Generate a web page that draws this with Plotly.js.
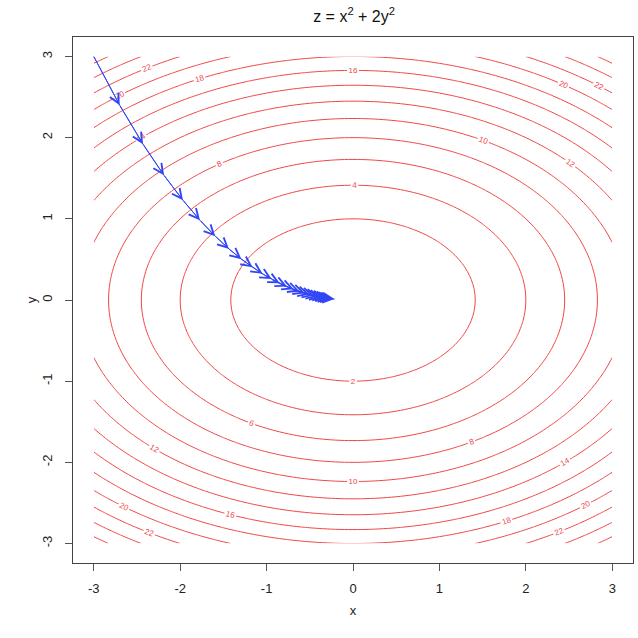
<!DOCTYPE html>
<html>
<head>
<meta charset="utf-8">
<script src="https://cdn.plot.ly/plotly-3.0.1.min.js"></script>
<style>html,body{margin:0;padding:0;background:#fff;}#chart{width:638px;height:638px;}</style>
</head>
<body>
<div id="chart"></div>
<script>
// Grid on which the surface z = x^2 + 2y^2 (the chart's title) is evaluated
const gridX = [];
const gridY = [];
for (let i = 0; i <= 120; i++) { gridX.push(-3 + i * 0.05); gridY.push(-3 + i * 0.05); }

// Contour levels
const levelStart = 2;
const levelEnd = 26;
const levelStep = 2;

// Descent path
const pathX = [-3.000, -2.700, -2.430, -2.187, -1.968, -1.771, -1.594, -1.435, -1.291, -1.162,
               -1.046, -0.941, -0.847, -0.763, -0.686, -0.618, -0.556, -0.500, -0.450, -0.405,
               -0.365, -0.328, -0.295, -0.266, -0.239, -0.215];
const pathY = [3.000, 2.400, 1.920, 1.536, 1.229, 0.983, 0.786, 0.629, 0.503, 0.403,
               0.322, 0.258, 0.206, 0.165, 0.132, 0.106, 0.084, 0.068, 0.054, 0.043,
               0.035, 0.028, 0.022, 0.018, 0.014, 0.011];

// Axis ticks
const tickVals = [-3, -2, -1, 0, 1, 2, 3];
const tickText = ['-3', '-2', '-1', '0', '1', '2', '3'];

const gridZ = gridY.map(y => gridX.map(x => x * x + 2 * y * y));

const red = 'rgb(240,70,70)';
const blue = 'rgb(50,70,245)';
const font = 'Liberation Sans, Arial, sans-serif';

const traces = [
  {
    type: 'contour',
    x: gridX, y: gridY, z: gridZ,
    autocontour: false,
    contours: {
      coloring: 'none',
      start: levelStart, end: levelEnd, size: levelStep,
      showlabels: true,
      labelfont: {family: font, size: 8, color: red}
    },
    line: {color: red, width: 1, smoothing: 1},
    showscale: false,
    hoverinfo: 'skip'
  },
  {
    type: 'scatter', mode: 'lines',
    x: pathX, y: pathY,
    line: {color: blue, width: 1},
    hoverinfo: 'skip', showlegend: false
  }
];

// Arrow heads at the end of every step; very short steps get a longer
// (collinear) shaft so that the head is still drawn.
const minShaft = 0.2;
const annotations = [];
for (let k = 1; k < pathX.length; k++) {
  const dx = pathX[k] - pathX[k - 1];
  const dy = pathY[k] - pathY[k - 1];
  const len = Math.hypot(dx, dy);
  const s = len < minShaft ? minShaft / len : 1;
  annotations.push({
    x: pathX[k], y: pathY[k], xref: 'x', yref: 'y',
    ax: pathX[k] - dx * s, ay: pathY[k] - dy * s, axref: 'x', ayref: 'y',
    text: '', showarrow: true, arrowhead: 5, arrowsize: 1.9, arrowwidth: 1,
    arrowcolor: blue, font: {size: 1}, borderpad: 0
  });
}

const axisCommon = {
  range: [-3.24, 3.24],
  tickmode: 'array', tickvals: tickVals, ticktext: tickText,
  ticks: 'outside', ticklen: 7, tickwidth: 1, tickcolor: '#555',
  showline: true, mirror: true, linecolor: '#444', linewidth: 1,
  showgrid: false, zeroline: false,
  tickfont: {family: font, size: 13, color: '#222'},
  fixedrange: true
};

const layout = {
  width: 638, height: 638,
  margin: {l: 73, r: 5, t: 37, b: 75},
  paper_bgcolor: '#fff', plot_bgcolor: '#fff',
  showlegend: false,
  title: {
    text: 'z = x<sup>2</sup> + 2y<sup>2</sup>',
    font: {family: font, size: 16, color: '#111'},
    x: 0.555, xanchor: 'center', y: 0.975, yanchor: 'middle'
  },
  xaxis: Object.assign({}, axisCommon, {
    title: {text: 'x', font: {family: font, size: 13, color: '#222'}, standoff: 11},
    ticklabelstandoff: 6
  }),
  yaxis: Object.assign({}, axisCommon, {
    tickangle: -90,
    title: {text: 'y', font: {family: font, size: 13, color: '#222'}, standoff: 0},
    ticklabelstandoff: 8
  }),
  annotations: annotations
};

Plotly.newPlot('chart', traces, layout, {displayModeBar: false, staticPlot: true});
</script>
</body>
</html>
